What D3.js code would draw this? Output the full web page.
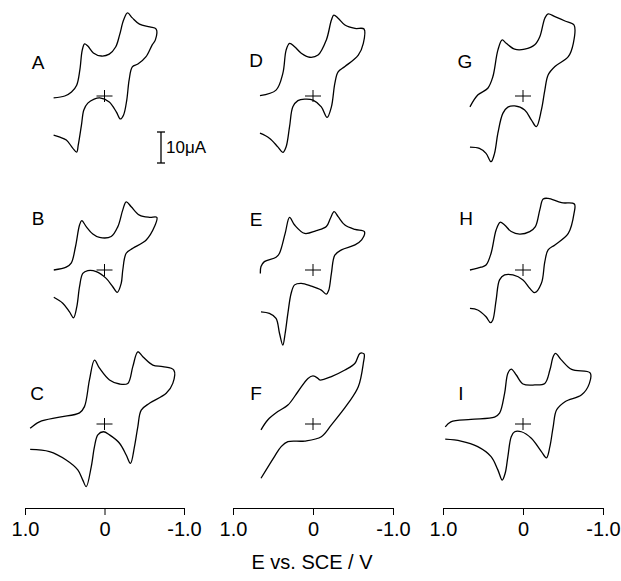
<!doctype html>
<html>
<head>
<meta charset="utf-8" />
<title>Cyclic voltammograms A-I</title>
<script src="https://cdn.jsdelivr.net/npm/d3@7/dist/d3.min.js"></script>
<style>
  body{margin:0;padding:0;background:#fff;}
  svg text{font-family:"Liberation Sans",Arial,Helvetica,sans-serif;fill:#000;}
</style>
</head>
<body>
<script>
// potential E (V vs SCE) , current I (uA, cathodic up)
var cvA = [[0.64,-0.6],[0.50,0],[0.415,1.3],[0.35,3.5],[0.31,8.4],[0.28,14.8],[0.25,16.8],[0.21,16.1],[0.14,13.9],[0.04,12.9],[-0.06,13.5],[-0.14,15.8],[-0.19,19.7],[-0.24,24.5],[-0.29,26.8],[-0.35,25.2],[-0.44,23.2],[-0.57,22.3],[-0.65,21.6],
  [-0.64,18.1],[-0.60,16.5],[-0.52,12.6],[-0.42,10.3],[-0.35,9.4],[-0.31,5.2],[-0.28,-1.3],[-0.24,-6.1],[-0.20,-7.4],[-0.15,-5.2],[-0.06,-1.9],[0.06,-0.6],[0.13,-1.0],[0.21,-2.3],[0.26,-4.5],[0.29,-9.4],[0.33,-15.8],[0.35,-18.1],[0.40,-16.8],[0.48,-14.2],[0.57,-13.2],[0.64,-12.6]];
var cvB = [[0.638,0],[0.482,0.9],[0.419,2.2],[0.365,7.5],[0.314,14.5],[0.286,15.9],[0.23,14.0],[0.147,11.6],[0.063,10.5],[-0.084,10.8],[-0.168,14.0],[-0.23,19.4],[-0.273,22.0],[-0.336,20.4],[-0.44,17.7],[-0.566,17.0],[-0.658,17.0],
  [-0.629,14.0],[-0.525,9.7],[-0.356,7.0],[-0.273,5.4],[-0.23,0],[-0.21,-4.3],[-0.16,-7.2],[-0.104,-5.4],[-0.021,-2.7],[0.104,-0.5],[0.21,-0.2],[0.273,-1.1],[0.314,-5.4],[0.348,-11.8],[0.39,-15.4],[0.44,-13.5],[0.525,-10.7],[0.638,-8.8]];
var cvC = [[0.935,-1.4],[0.818,0.7],[0.566,2.2],[0.314,3.6],[0.252,5.6],[0.189,14.2],[0.126,20.6],[0.063,18.0],[-0.063,14.2],[-0.189,12.9],[-0.293,13.1],[-0.356,18.5],[-0.419,23.3],[-0.482,21.7],[-0.608,19.0],[-0.733,18.5],[-0.872,17.4],
  [-0.859,13.1],[-0.776,9.9],[-0.566,6.7],[-0.462,4.5],[-0.419,-0.9],[-0.377,-7.3],[-0.327,-12.7],[-0.273,-10.0],[-0.189,-6.2],[-0.063,-3.5],[0.013,-2.5],[0.084,-3.5],[0.126,-7.3],[0.167,-13.8],[0.23,-20.2],[0.273,-18.1],[0.336,-14.8],[0.482,-11.6],[0.692,-8.9],[0.935,-8.2]];
var cvD = [[0.663,0.1],[0.462,1.9],[0.377,7.3],[0.336,14.8],[0.293,17.0],[0.23,15.9],[0.147,13.8],[0.042,12.5],[-0.063,13.2],[-0.167,18.1],[-0.23,24.5],[-0.26,26.1],[-0.314,25.1],[-0.399,22.9],[-0.525,21.8],[-0.638,21.6],
  [-0.629,17.0],[-0.566,13.2],[-0.399,9.5],[-0.314,7.8],[-0.273,4.1],[-0.23,-3.5],[-0.176,-6.9],[-0.104,-3.5],[0,-1.3],[0.104,-1.0],[0.189,-1.5],[0.252,-3.5],[0.293,-9.9],[0.336,-16.4],[0.377,-18.2],[0.44,-16.4],[0.545,-13.6],[0.663,-12.0]];
var cvE = [[0.658,-1.1],[0.65,1.1],[0.608,2.7],[0.462,4.1],[0.419,5.4],[0.348,11.8],[0.293,17.0],[0.23,14.5],[0.104,11.8],[-0.042,12.7],[-0.167,14.0],[-0.218,16.7],[-0.264,18.8],[-0.314,17.2],[-0.399,14.5],[-0.525,13.1],[-0.642,12.4],
  [-0.608,9.7],[-0.525,8.1],[-0.356,6.5],[-0.273,4.8],[-0.23,-1.1],[-0.197,-6.5],[-0.167,-7.8],[-0.104,-6.5],[0.021,-5.2],[0.147,-4.3],[0.23,-4.8],[0.273,-7.5],[0.314,-14.0],[0.348,-20.4],[0.377,-24.2],[0.419,-20.4],[0.462,-15.6],[0.545,-14.0],[0.65,-13.5]];
var cvF = [[0.65,-1.9],[0.566,1.3],[0.44,4.0],[0.314,6.1],[0.189,10.4],[0.063,14.7],[0,15.5],[-0.063,14.7],[-0.084,14.2],[-0.23,15.3],[-0.399,17.4],[-0.525,19.6],[-0.587,22.8],[-0.638,22.6],
  [-0.629,19.6],[-0.566,12.0],[-0.44,6.7],[-0.23,-0.3],[-0.104,-4.1],[0.104,-5.5],[0.314,-5.7],[0.398,-7.3],[0.482,-10.5],[0.65,-17.5]];
var cvG = [[0.663,-3.5],[0.566,0.3],[0.44,2.5],[0.377,6.2],[0.314,14.8],[0.26,18.1],[0.21,17.0],[0.104,15.1],[-0.021,15.1],[-0.147,16.5],[-0.21,19.1],[-0.273,25.1],[-0.314,26.5],[-0.399,25.6],[-0.525,24.2],[-0.638,22.9],
  [-0.629,17.0],[-0.566,12.7],[-0.399,9.5],[-0.314,6.8],[-0.273,1.9],[-0.23,-4.5],[-0.167,-9.9],[-0.104,-7.7],[-0.021,-4.5],[0.104,-3.2],[0.189,-3.6],[0.252,-5.6],[0.314,-12.0],[0.356,-18.5],[0.399,-21.2],[0.462,-18.5],[0.545,-16.9],[0.663,-16.5]];
var cvH = [[0.663,0],[0.525,0.9],[0.462,1.6],[0.399,5.4],[0.336,12.9],[0.286,15.4],[0.23,14.5],[0.147,12.4],[0.042,11.6],[-0.084,12.4],[-0.155,14.0],[-0.21,19.4],[-0.252,22.9],[-0.314,23.1],[-0.482,21.7],[-0.642,21.3],
  [-0.638,18.3],[-0.566,11.8],[-0.399,8.1],[-0.314,6.5],[-0.273,2.7],[-0.23,-4.3],[-0.147,-7.3],[-0.084,-5.9],[0,-3.2],[0.126,-1.6],[0.23,-1.6],[0.293,-3.2],[0.336,-9.7],[0.377,-16.1],[0.406,-17.0],[0.462,-15.1],[0.566,-12.9],[0.663,-12.4]];
var cvI = [[0.972,-0.9],[0.902,0.7],[0.65,1.5],[0.356,2.2],[0.293,3.5],[0.23,9.9],[0.189,16.4],[0.147,17.7],[0.084,15.8],[0,12.9],[-0.147,12.6],[-0.273,13.1],[-0.336,17.4],[-0.377,21.7],[-0.406,22.8],[-0.482,20.6],[-0.608,17.6],[-0.839,16.5],
  [-0.83,13.1],[-0.733,9.4],[-0.525,7.2],[-0.419,4.5],[-0.377,-0.9],[-0.336,-7.3],[-0.293,-10.9],[-0.23,-8.9],[-0.104,-4.6],[0.021,-2.5],[0.104,-2.5],[0.147,-4.1],[0.189,-10.5],[0.223,-15.9],[0.26,-18.1],[0.314,-14.8],[0.399,-10.5],[0.566,-7.3],[0.776,-5.5],[0.972,-4.9]];

var panelLabels = ["A","B","C","D","E","F","G","H","I"];
var curves = [cvA,cvB,cvC,cvD,cvE,cvF,cvG,cvH,cvI];
var tickValues = [1, 0, -1];
var tickLabels = ["1.0", "0", "-1.0"];
var scaleBarValue = 10;   // uA
var xTitle = "E vs. SCE / V";

// layout
var width = 621, height = 581;
var colRange = [[25,184],[233,393],[443,603]];
var rowZero = [96, 270, 424];       // pixel of I = 0 in each row
var pxPerMicroAmp = 3.1;
var axisY = 508;
var labelPos = [[38,62],[38,218],[37,393],[256,60],[256,219],[256,393],[465,61],[466,218],[461,393]];

var svg = d3.select("body").append("svg").attr("width",width).attr("height",height);

var line = d3.line().curve(d3.curveCatmullRom.alpha(0.5));

for (let k = 0; k < 9; k++) {
  var col = Math.floor(k/3), row = k%3;
  var x = d3.scaleLinear().domain([1,-1]).range(colRange[col]);
  var y = d3.scaleLinear().domain([0,10]).range([rowZero[row], rowZero[row]-10*pxPerMicroAmp]);
  var g = svg.append("g").attr("id","panel"+panelLabels[k]);

  g.append("path")
    .attr("d", line.x(function(d){ return x(d[0]); }).y(function(d){ return y(d[1]); })(curves[k]))
    .attr("fill","none").attr("stroke","#000").attr("stroke-width",1.3).attr("stroke-linejoin","round");

  // cross at E = 0, I = 0
  g.append("line").attr("x1",x(0)-8).attr("x2",x(0)+8).attr("y1",y(0)).attr("y2",y(0)).attr("stroke","#000").attr("stroke-width",1);
  g.append("line").attr("x1",x(0)).attr("x2",x(0)).attr("y1",y(0)-6).attr("y2",y(0)+6).attr("stroke","#000").attr("stroke-width",1);

  g.append("text").attr("x",labelPos[k][0]).attr("y",labelPos[k][1]).attr("text-anchor","middle")
    .attr("dominant-baseline","central").attr("font-size","19px").text(panelLabels[k]);

  if (row == 2) {
    var axis = d3.axisBottom(x).tickValues(tickValues).tickSize(7).tickSizeOuter(0).tickPadding(7)
      .tickFormat(function(d,i){ return tickLabels[i]; });
    var ax = svg.append("g").attr("transform","translate(0,"+axisY+")").call(axis);
    ax.select(".domain").attr("stroke-width",1.2);
    ax.selectAll(".tick line").attr("stroke-width",1);
    ax.selectAll(".tick text").attr("font-size","20px").attr("font-family",null);
  }
}

// 10 uA scale bar, uses row 0 current scale
var yBar = d3.scaleLinear().domain([0,10]).range([0, -10*pxPerMicroAmp]);
var barX = 161, barBottom = 163;
var bar = svg.append("g").attr("transform","translate("+barX+","+barBottom+")");
bar.append("line").attr("x1",0).attr("x2",0).attr("y1",yBar(0)).attr("y2",yBar(scaleBarValue)).attr("stroke","#000").attr("stroke-width",1.3);
bar.append("line").attr("x1",-4).attr("x2",4).attr("y1",yBar(0)).attr("y2",yBar(0)).attr("stroke","#000").attr("stroke-width",1.3);
bar.append("line").attr("x1",-4).attr("x2",4).attr("y1",yBar(scaleBarValue)).attr("y2",yBar(scaleBarValue)).attr("stroke","#000").attr("stroke-width",1.3);
bar.append("text").attr("x",5).attr("y",yBar(scaleBarValue/2)).attr("dominant-baseline","central")
  .attr("font-size","17px").text(scaleBarValue+"\u03BCA");

svg.append("text").attr("x",312).attr("y",562).attr("text-anchor","middle").attr("dominant-baseline","central")
  .attr("font-size","20px").text(xTitle);
</script>
</body>
</html>
